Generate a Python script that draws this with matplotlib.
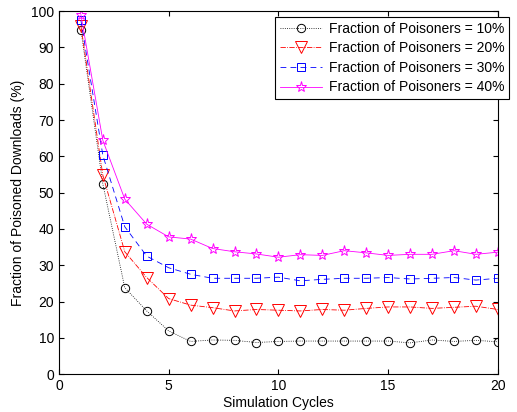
import matplotlib
matplotlib.use("Agg")
import matplotlib.pyplot as plt
import numpy as np

plt.rcParams["font.family"] = ["Liberation Sans", "DejaVu Sans"]

cycles = np.arange(1, 21)
p10 = [94.9, 52.4, 23.8, 17.4, 11.9, 9.0, 9.4, 9.3, 8.7, 9.0,
       9.1, 9.1, 9.1, 9.1, 9.1, 8.6, 9.4, 9.0, 9.3, 8.9]
p20 = [96.0, 54.8, 33.7, 26.6, 20.8, 19.0, 18.3, 17.4, 17.8, 17.6,
       17.4, 17.8, 17.6, 18.1, 18.5, 18.5, 18.1, 18.4, 18.7, 17.8]
p30 = [97.5, 60.3, 40.6, 32.5, 29.3, 27.5, 26.4, 26.4, 26.4, 26.7,
       25.7, 26.1, 26.4, 26.4, 26.6, 26.2, 26.4, 26.6, 25.9, 26.4]
p40 = [99.0, 64.4, 48.2, 41.3, 37.8, 37.2, 34.6, 33.7, 33.1, 32.2,
       32.9, 32.7, 34.0, 33.4, 32.7, 33.0, 33.0, 34.0, 33.0, 33.6]
labels = ["Fraction of Poisoners = 10%", "Fraction of Poisoners = 20%",
          "Fraction of Poisoners = 30%", "Fraction of Poisoners = 40%"]

fig = plt.figure(figsize=(5.17, 4.12), dpi=100)
ax = fig.add_axes([0.114, 0.092, 0.849, 0.881])

ax.plot(cycles, p10, ls=":", color="black", lw=0.6, marker="o", ms=6,
        mfc="none", mew=0.7, label=labels[0])
ax.plot(cycles, p20, ls="-.", color="red", lw=0.6, marker="v", ms=8,
        mfc="none", mew=0.7, label=labels[1])
ax.plot(cycles, p30, ls=(0, (7, 5)), color="blue", lw=0.6, marker="s", ms=5.5,
        mfc="none", mew=0.7, label=labels[2])
ax.plot(cycles, p40, ls="-", color="magenta", lw=0.6, marker="*", ms=8,
        mfc="none", mew=0.7, label=labels[3])

ax.set_xlim(0, 20)
ax.set_ylim(0, 100)
ax.set_xticks([0, 5, 10, 15, 20])
ax.set_yticks(np.arange(0, 101, 10))
ax.tick_params(direction="in", top=True, right=True, labelsize=10)
ax.set_xlabel("Simulation Cycles", fontsize=10, labelpad=2)
ax.set_ylabel("Fraction of Poisoned Downloads (%)", fontsize=10)

leg = ax.legend(loc="upper right", fontsize=10, fancybox=False, framealpha=1,
                bbox_to_anchor=(0.985, 0.959), bbox_transform=fig.transFigure,
                borderaxespad=0, handlelength=3.0, labelspacing=0.4,
                borderpad=0.35, handletextpad=0.5)
leg.get_frame().set_edgecolor("black")
leg.get_frame().set_linewidth(0.8)

fig.savefig("out.png", dpi=100)
